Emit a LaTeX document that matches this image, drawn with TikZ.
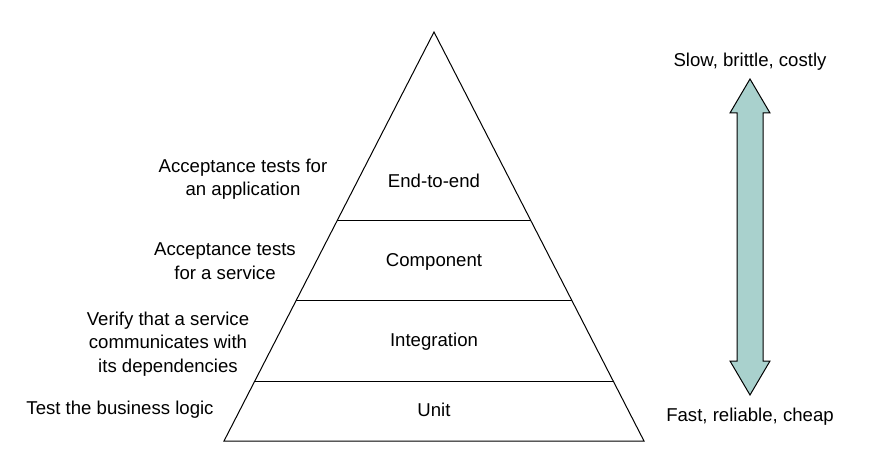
\documentclass[tikz,border=0pt]{standalone}
\usepackage{fontspec}
\setmainfont{Liberation Sans}
\usepackage{tikz}
\usetikzlibrary{calc}
\definecolor{arrowteal}{RGB}{169,209,205}
\tikzstyle{layer text} = [font=\fontsize{18.6}{23.5}\selectfont, align=center, inner sep=0]
\tikzstyle{side text}  = [font=\fontsize{18.6}{23.5}\selectfont, align=center, inner sep=0]
\tikzstyle{outline}    = [draw=black, line width=1pt, line join=miter]

\begin{document}
\begin{tikzpicture}[x=1pt, y=1pt]
    \useasboundingbox (0,0) rectangle (876,464);

    % Pyramid corners
    \coordinate (apex) at (434,432);
    \coordinate (bl) at (224,23);
    \coordinate (br) at (644,23);
    \draw[outline] (apex) -- (bl) -- (br) -- cycle;

    % Layer borders
    \coordinate (l1) at ($(apex)!0.4621!(bl)$);
    \coordinate (r1) at ($(apex)!0.4621!(br)$);
    \coordinate (l2) at ($(apex)!0.6577!(bl)$);
    \coordinate (r2) at ($(apex)!0.6577!(br)$);
    \coordinate (l3) at ($(apex)!0.8533!(bl)$);
    \coordinate (r3) at ($(apex)!0.8533!(br)$);
    \draw[outline] (l1) -- (r1);
    \draw[outline] (l2) -- (r2);
    \draw[outline] (l3) -- (r3);

    % Layer names
    \node(e2e)[layer text] at (434,283) {End-to-end};
    \node(comp)[layer text] at (434,202) {Component};
    \node(integ)[layer text] at (434,122) {Integration};
    \node(unit)[layer text] at (434,54) {Unit};

    % What each layer tests
    \node(e2e-desc)[side text] at (243,285) {Acceptance tests for\\an application};
    \node(comp-desc)[side text] at (225,203) {Acceptance tests\\for a service};
    \node(integ-desc)[side text] at (168,120) {Verify that a service\\communicates with\\its dependencies};
    \node(unit-desc)[side text] at (120,54) {Test the business logic};

    % Cost arrow
    \draw[outline, fill=arrowteal]
        (750,385) -- (770,351) -- (763,351) -- (763,103) -- (770,103)
        -- (750,69) -- (730,103) -- (737,103) -- (737,351) -- (730,351) -- cycle;
    \node(slow)[side text] at (750,402) {Slow, brittle, costly};
    \node(fast)[side text] at (750,47) {Fast, reliable, cheap};

\end{tikzpicture}
\end{document}
